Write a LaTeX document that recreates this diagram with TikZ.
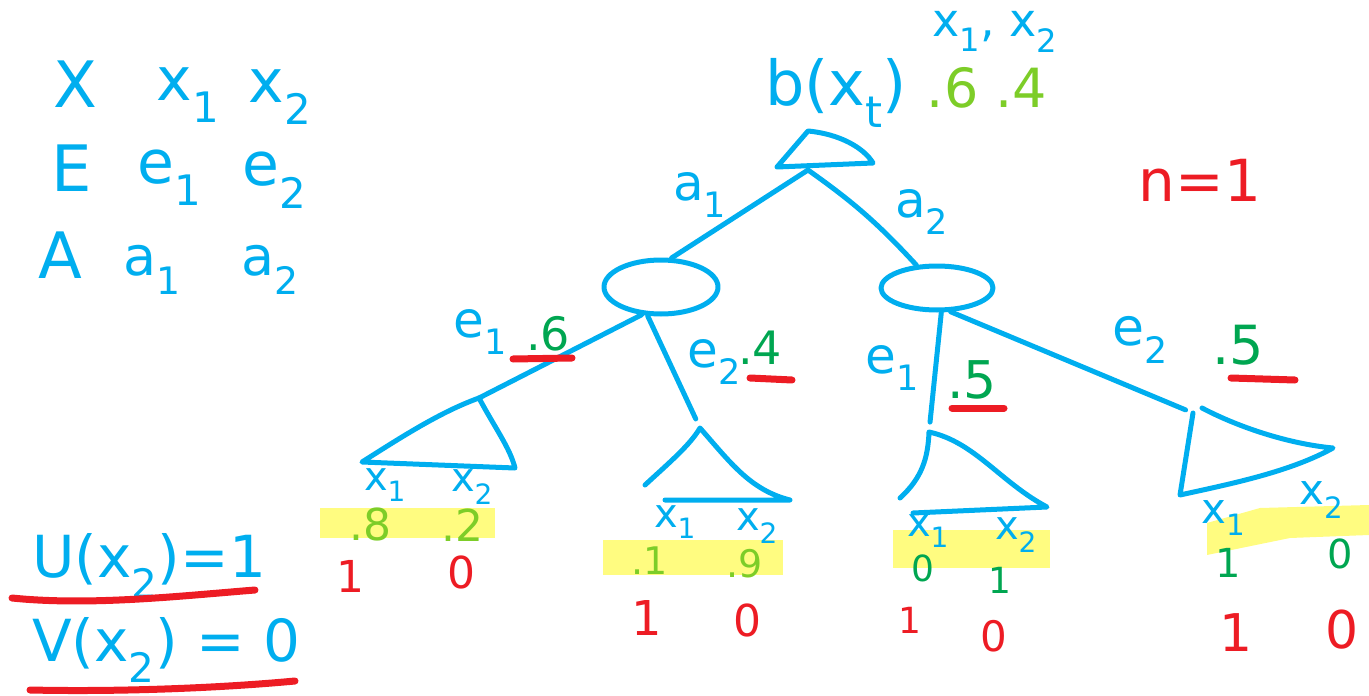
\documentclass[tikz,border=0pt]{standalone}
\usepackage{fontspec}
\setmainfont{DejaVu Sans}
\usetikzlibrary{shapes.geometric}
\definecolor{hblue}{RGB}{0,174,239}
\definecolor{lgreen}{RGB}{125,205,40}
\definecolor{dgreen}{RGB}{0,166,81}
\definecolor{hred}{RGB}{237,28,36}
\definecolor{hyellow}{RGB}{255,252,128}
\newcommand\fsz[1]{\fontsize{#1}{#1}\selectfont}
\newcommand\sub[1]{\textsubscript{#1}}
\tikzset{
  pen/.style={line width=5pt, line cap=round, line join=round, draw=hblue},
  redmark/.style={line width=7pt, line cap=round, draw=hred},
  lbl/.style={inner sep=0pt, text=hblue},
  lg/.style={inner sep=0pt, text=lgreen},
  dg/.style={inner sep=0pt, text=dgreen},
  rd/.style={inner sep=0pt, text=hred},
  hl/.style={fill=hyellow, draw=none},
  state/.style={ellipse, pen, inner sep=0pt}
}
\begin{document}
\begin{tikzpicture}[x=1pt,y=-1pt]
\useasboundingbox (0,0) rectangle (1369,696);
% highlights
\fill[hl] (320,508) rectangle (495,538);
\fill[hl] (603,540) rectangle (783,575);
\fill[hl] (893,530) rectangle (1050,568);
\fill[hl] (1207,523) -- (1260,508) -- (1369,505) -- (1369,535) -- (1290,538) -- (1207,555) -- cycle;

% legend
\node[lbl,font=\fsz{64}] (X) at (75,84) {X};
\node[lbl,font=\fsz{60}] (x1) at (188,95) {x\sub{1}};
\node[lbl,font=\fsz{60}] (x2) at (280,97) {x\sub{2}};
\node[lbl,font=\fsz{64}] (E) at (72,168) {E};
\node[lbl,font=\fsz{60}] (e1) at (170,178) {e\sub{1}};
\node[lbl,font=\fsz{60}] (e2) at (275,180) {e\sub{2}};
\node[lbl,font=\fsz{64}] (A) at (60,255) {A};
\node[lbl,font=\fsz{54}] (a1) at (152,270) {a\sub{1}};
\node[lbl,font=\fsz{54}] (a2) at (270,270) {a\sub{2}};
\node[lbl,font=\fsz{58},anchor=west] (U) at (32,566) {U(x\sub{2})=1};
\node[lbl,font=\fsz{58},anchor=west] (V) at (32,650) {V(x\sub{2}) = 0};
\draw[redmark] (12,598) .. controls (90,606) and (180,596) .. (255,590);
\draw[redmark] (30,690) .. controls (120,692) and (220,688) .. (295,681);

% top belief
\node[lbl,font=\fsz{46}] (tx) at (995,32) {x\sub{1}, x\sub{2}};
\node[lbl,font=\fsz{62}] (b) at (836,93) {b(x\sub{t})};
\node[lg,font=\fsz{54}] (bp) at (987,88) {.6 .4};
\node[rd,font=\fsz{58}] (n) at (1200,180) {n=1};

% root
\coordinate (rootL) at (777,167);
\coordinate (rootA) at (808,131);
\coordinate (rootR) at (873,163);
\coordinate (root) at (808,170);
\draw[pen] (rootL) -- (rootA) .. controls (840,134) and (864,148) .. (rootR) -- (rootL);

% action states
\node[state, minimum width=114pt, minimum height=54pt] (s1) at (661,287) {};
\node[state, minimum width=112pt, minimum height=44pt] (s2) at (937,288) {};
\draw[pen] (root) -- (s1.70);
\draw[pen] (root) to[bend left=6] (s2.132);
\node[lbl,font=\fsz{50}] (la1) at (700,195) {a\sub{1}};
\node[lbl,font=\fsz{50}] (la2) at (922,212) {a\sub{2}};

% leaf triangles
\coordinate (t1) at (479,398);
\coordinate (t1l) at (362,462);
\coordinate (t1r) at (515,468);
\draw[pen] (t1l) .. controls (400,438) and (440,412) .. (t1) .. controls (495,428) and (510,448) .. (t1r) -- cycle;

\coordinate (t2) at (700,428);
\coordinate (t2l) at (645,485);
\coordinate (t2r) at (790,500);
\coordinate (t2b) at (665,500);
\draw[pen] (t2l) .. controls (670,462) and (690,445) .. (t2) .. controls (730,462) and (750,490) .. (t2r) -- (t2b);

\coordinate (t3) at (929,432);
\coordinate (t3l) at (900,498);
\coordinate (t3r) at (1047,507);
\coordinate (t3b) at (913,513);
\draw[pen] (t3l) .. controls (922,478) and (928,458) .. (t3) .. controls (975,442) and (1000,482) .. (t3r) -- (t3b);

\coordinate (t4) at (1193,413);
\coordinate (t4r) at (1333,448);
\coordinate (t4b) at (1180,495);
\coordinate (t4s) at (1202,408);
\draw[pen] (t4s) .. controls (1240,428) and (1290,444) .. (t4r) .. controls (1290,472) and (1230,484) .. (t4b) -- (t4);

% observation edges
\draw[pen] (s1.235) -- (t1);
\draw[pen, shorten >=10pt] (s1.245) -- (t2);
\draw[pen, shorten >=10pt] (s2.280) -- (t3);
\draw[pen, shorten >=8pt] (s2.300) -- (t4);

% edge labels
\node[lbl,font=\fsz{50}] (le1a) at (480,332) {e\sub{1}};
\node[dg,font=\fsz{46}] (pe1a) at (548,334) {.6};
\draw[redmark] (513,359) -- (572,358);
\node[lbl,font=\fsz{50}] (le2a) at (714,362) {e\sub{2}};
\node[dg,font=\fsz{46}] (pe2a) at (760,348) {.4};
\draw[redmark] (750,378) -- (792,380);
\node[lbl,font=\fsz{50}] (le1b) at (892,368) {e\sub{1}};
\node[dg,font=\fsz{52}] (pe1b) at (972,380) {.5};
\draw[redmark] (952,408) -- (1004,408);
\node[lbl,font=\fsz{52}] (le2b) at (1140,340) {e\sub{2}};
\node[dg,font=\fsz{54}] (pe2b) at (1238,345) {.5};
\draw[redmark] (1231,378) -- (1295,380);

% leaf 1
\node[lbl,font=\fsz{40}] (l1x1) at (385,485) {x\sub{1}};
\node[lbl,font=\fsz{40}] (l1x2) at (472,487) {x\sub{2}};
\node[lg,font=\fsz{44}] (l1p1) at (370,524) {.8};
\node[lg,font=\fsz{44}] (l1p2) at (462,525) {.2};
\node[rd,font=\fsz{44}] (l1u1) at (350,576) {1};
\node[rd,font=\fsz{44}] (l1u2) at (461,572) {0};
% leaf 2
\node[lbl,font=\fsz{40}] (l2x1) at (675,522) {x\sub{1}};
\node[lbl,font=\fsz{40}] (l2x2) at (757,526) {x\sub{2}};
\node[lg,font=\fsz{38}] (l2p1) at (650,561) {.1};
\node[lg,font=\fsz{38}] (l2p2) at (745,564) {.9};
\node[rd,font=\fsz{48}] (l2u1) at (647,618) {1};
\node[rd,font=\fsz{44}] (l2u2) at (747,620) {0};
% leaf 3
\node[lbl,font=\fsz{40}] (l3x1) at (928,531) {x\sub{1}};
\node[lbl,font=\fsz{40}] (l3x2) at (1016,535) {x\sub{2}};
\node[dg,font=\fsz{36}] (l3p1) at (923,568) {0};
\node[dg,font=\fsz{36}] (l3p2) at (1000,580) {1};
\node[rd,font=\fsz{36}] (l3u1) at (910,620) {1};
\node[rd,font=\fsz{42}] (l3u2) at (994,636) {0};
% leaf 4
\node[lbl,font=\fsz{42}] (l4x1) at (1224,518) {x\sub{1}};
\node[lbl,font=\fsz{42}] (l4x2) at (1322,500) {x\sub{2}};
\node[dg,font=\fsz{40}] (l4p1) at (1228,563) {1};
\node[dg,font=\fsz{40}] (l4p2) at (1340,554) {0};
\node[rd,font=\fsz{52}] (l4u1) at (1236,633) {1};
\node[rd,font=\fsz{52}] (l4u2) at (1342,630) {0};
\end{tikzpicture}
\end{document}
